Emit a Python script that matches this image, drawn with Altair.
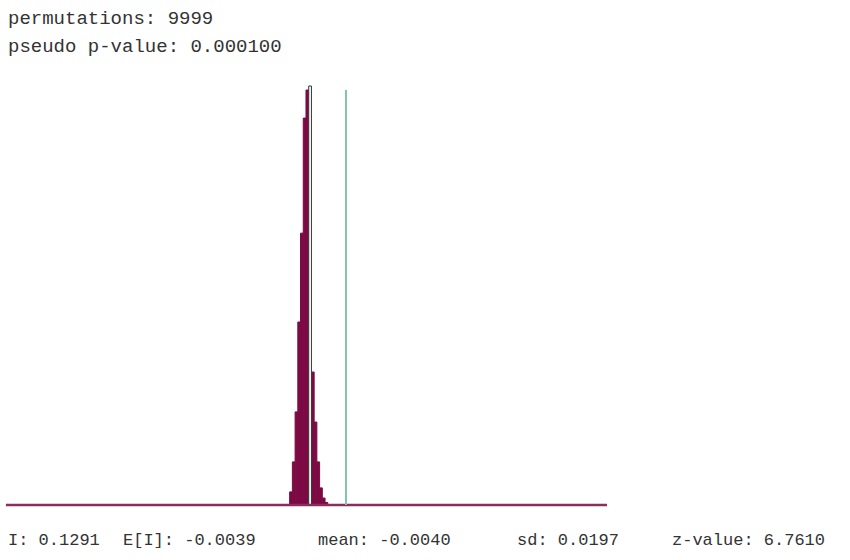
import altair as alt
import pandas as pd

# ---- data ----
bin_start = [-0.0820, -0.0718, -0.0616, -0.0514, -0.0412, -0.0310, -0.0208,
             -0.0106, -0.0004, 0.0098, 0.0200, 0.0302, 0.0404, 0.0506]
bin_end = [-0.0718, -0.0616, -0.0514, -0.0412, -0.0310, -0.0208, -0.0106,
           -0.0004, 0.0098, 0.0200, 0.0302, 0.0404, 0.0506, 0.0608]
counts = [62, 204, 441, 867, 1288, 1833, 1966, 1985, 630, 393, 204, 81, 33, 12]
highlight = [False, False, False, False, False, False, False,
             True, False, False, False, False, False, False]

observed_I = 0.1291
i_line_top = 1966
axis_min = -1.145
axis_max = 1.107

top_labels = ["permutations: 9999", "pseudo p-value: 0.000100"]
bottom_labels = ["I: 0.1291", "E[I]: -0.0039", "mean: -0.0040", "sd: 0.0197", "z-value: 6.7610"]

# ---- tables ----
hist = pd.DataFrame({"x0": bin_start, "x1": bin_end, "count": counts, "hl": highlight})
line_df = pd.DataFrame({"x": [observed_I], "top": [i_line_top]})
base_df = pd.DataFrame({"x0": [axis_min], "x1": [axis_max], "y": [0]})

W, H = 850, 560
xs = alt.Scale(domain=[-1.1672, 2.0174], nice=False, zero=False)
ys = alt.Scale(domain=[-260.6, 2392.5], nice=False, zero=False)
FONT = "Liberation Mono"

bars = alt.Chart(hist).transform_filter("!datum.hl").mark_rect(
    color="#7c0a44", stroke="#7c0a44", strokeWidth=1
).encode(
    x=alt.X("x0:Q", scale=xs, axis=None),
    x2="x1:Q",
    y=alt.Y("count:Q", scale=ys, axis=None),
    y2=alt.datum(0),
)

hl_bar = alt.Chart(hist).transform_filter("datum.hl").mark_rect(
    fill="white", stroke="#333333", strokeWidth=1
).encode(
    x=alt.X("x0:Q", scale=xs, axis=None),
    x2="x1:Q",
    y=alt.Y("count:Q", scale=ys, axis=None),
    y2=alt.datum(0),
)

iline = alt.Chart(line_df).mark_rule(color="#86c2ad", strokeWidth=2).encode(
    x=alt.X("x:Q", scale=xs, axis=None),
    y=alt.Y("top:Q", scale=ys, axis=None),
    y2=alt.datum(0),
)

baseline = alt.Chart(base_df).mark_rule(color="#8b2d5e", strokeWidth=2.5).encode(
    x=alt.X("x0:Q", scale=xs, axis=None),
    x2="x1:Q",
    y=alt.Y("y:Q", scale=ys, axis=None),
)

layers = [bars, hl_bar, baseline, iline]

top_y = [18, 46]
for lbl, yy in zip(top_labels, top_y):
    layers.append(
        alt.Chart(pd.DataFrame({"t": [lbl]})).mark_text(
            align="left", baseline="middle", font=FONT, fontSize=19,
            color="#333333"
        ).encode(x=alt.value(8), y=alt.value(yy), text="t:N")
    )

bottom_x = [8, 123, 318, 517, 672]
for lbl, xx in zip(bottom_labels, bottom_x):
    layers.append(
        alt.Chart(pd.DataFrame({"t": [lbl]})).mark_text(
            align="left", baseline="middle", font=FONT, fontSize=17,
            color="#333333"
        ).encode(x=alt.value(xx), y=alt.value(540), text="t:N")
    )

chart = alt.layer(*layers).properties(
    width=W, height=H, padding=0,
    autosize=alt.AutoSizeParams(type="none"),
    background="white",
).configure_view(stroke=None)

chart.save("out.html", embed_options={"renderer": "svg", "actions": False})
